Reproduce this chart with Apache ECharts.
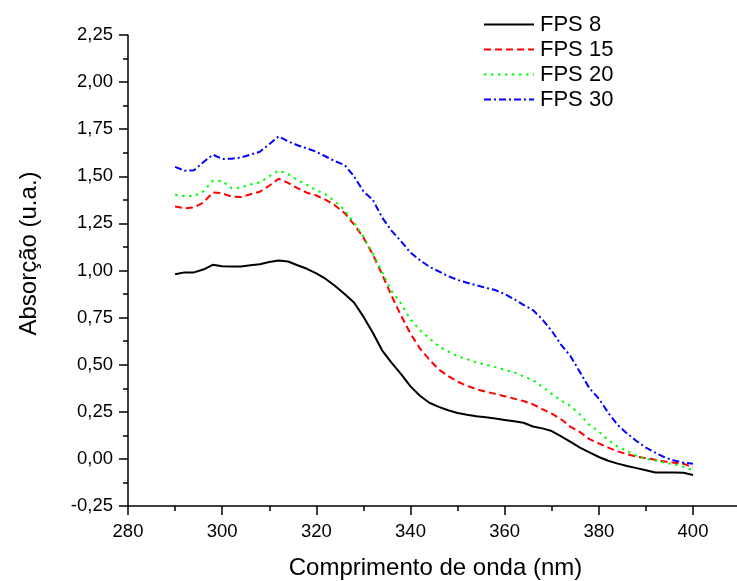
<!DOCTYPE html>
<html>
<head>
<meta charset="utf-8">
<script src="https://cdn.jsdelivr.net/npm/echarts@6/dist/echarts.min.js"></script>
<style>html,body{margin:0;padding:0;background:#fff}#c{width:737px;height:581px}</style>
</head>
<body>
<div id="c"></div>
<script>
const wavelengths = [290,292,294,296,298,300,302,304,306,308,310,312,314,316,318,320,322,324,326,328,330,332,334,336,338,340,342,344,346,348,350,352,354,356,358,360,362,364,366,368,370,372,374,376,378,380,382,384,386,388,390,392,394,396,398,400];
const fps8 = [0.98,0.99,0.99,1.005,1.03,1.022,1.021,1.021,1.028,1.033,
  1.045,1.053,1.048,1.028,1.009,0.985,0.955,0.918,0.875,0.83,
  0.755,0.67,0.575,0.51,0.45,0.385,0.335,0.298,0.276,0.258,
  0.244,0.234,0.226,0.221,0.214,0.207,0.2,0.192,0.172,0.162,
  0.148,0.12,0.09,0.06,0.035,0.01,-0.01,-0.025,-0.038,-0.049,
  -0.06,-0.072,-0.072,-0.072,-0.074,-0.085];
const fps15 = [1.34,1.33,1.335,1.36,1.414,1.41,1.392,1.39,1.405,1.418,
  1.45,1.487,1.465,1.437,1.413,1.398,1.375,1.345,1.305,1.245,
  1.175,1.085,0.978,0.865,0.76,0.665,0.586,0.527,0.475,0.44,
  0.41,0.388,0.37,0.357,0.345,0.333,0.32,0.307,0.29,0.264,
  0.24,0.21,0.17,0.142,0.105,0.082,0.06,0.04,0.025,0.012,
  0.004,-0.005,-0.014,-0.02,-0.026,-0.045];
const fps20 = [1.402,1.395,1.395,1.42,1.476,1.475,1.437,1.44,1.457,1.467,
  1.5,1.53,1.512,1.48,1.455,1.425,1.405,1.365,1.32,1.255,
  1.18,1.09,0.99,0.89,0.825,0.74,0.683,0.64,0.597,0.57,
  0.545,0.53,0.512,0.5,0.487,0.472,0.46,0.438,0.418,0.383,
  0.345,0.31,0.28,0.235,0.18,0.145,0.1,0.065,0.042,0.017,
  0.0,-0.008,-0.02,-0.03,-0.042,-0.06];
const fps30 = [1.55,1.53,1.532,1.575,1.615,1.592,1.593,1.6,1.615,1.63,
  1.67,1.712,1.685,1.665,1.648,1.63,1.605,1.58,1.56,1.5,
  1.42,1.375,1.28,1.21,1.155,1.095,1.055,1.02,0.995,0.97,
  0.95,0.935,0.922,0.908,0.896,0.875,0.848,0.818,0.79,0.74,
  0.68,0.605,0.545,0.46,0.375,0.32,0.245,0.18,0.135,0.095,
  0.06,0.033,0.008,-0.008,-0.02,-0.026];
const seriesNames = ['FPS 8','FPS 15','FPS 20','FPS 30'];
const seriesValues = [fps8, fps15, fps20, fps30];
const seriesColors = ['#000000','#ff0000','#00ff00','#0000ff'];
const seriesDash = ['solid',[7,4],[2.5,4.5],[7,3,2,3]];

const font = 'Liberation Sans, Arial, sans-serif';
const axisColor = '#000';
const chart = echarts.init(document.getElementById('c'), null, {renderer:'canvas'});

const series = seriesNames.map((name, k) => ({
  name: name,
  type: 'line',
  xAxisIndex: 0,
  yAxisIndex: 0,
  symbol: 'none',
  smooth: false,
  data: wavelengths.map((w, i) => [w, seriesValues[k][i]]),
  lineStyle: {color: seriesColors[k], width: 2, type: seriesDash[k]},
  itemStyle: {color: seriesColors[k]}
}));

chart.setOption({
  animation: false,
  backgroundColor: '#fff',
  textStyle: {fontFamily: font},
  grid: [
    {left: 128, top: 35, width: 565, height: 471, containLabel: false, outerBoundsMode: 'none'},
    {left: 693, top: 35, width: 47, height: 471, containLabel: false, outerBoundsMode: 'none'}
  ],
  legend: {
    data: seriesNames,
    orient: 'vertical',
    left: 483,
    top: 12,
    padding: 0,
    itemWidth: 50,
    itemHeight: 14,
    itemGap: 0,
    itemStyle: {opacity: 0},
    textStyle: {fontSize: 22, color: '#000', lineHeight: 25, fontFamily: font, padding: [0,0,0,1]}
  },
  xAxis: [
    {
      gridIndex: 0, type: 'value', min: 280, max: 400, interval: 20,
      name: 'Comprimento de onda (nm)', nameLocation: 'middle', nameGap: 50,
      nameTextStyle: {fontSize: 24, color: '#000', fontFamily: font, padding: [0,0,0,50]},
      axisLine: {onZero: false, lineStyle: {color: axisColor, width: 1.5}},
      axisTick: {length: 9, lineStyle: {color: axisColor, width: 1.5}},
      minorTick: {show: true, splitNumber: 2, length: 5, lineStyle: {color: axisColor, width: 1.5}},
      axisLabel: {fontSize: 18.5, color: '#000', margin: 16, fontFamily: font},
      splitLine: {show: false}
    },
    {
      gridIndex: 1, type: 'value', min: 400, max: 410,
      axisLine: {onZero: false, lineStyle: {color: axisColor, width: 1.5}},
      axisTick: {show: false}, axisLabel: {show: false}, splitLine: {show: false}
    }
  ],
  yAxis: [
    {
      gridIndex: 0, type: 'value', min: -0.25, max: 2.25, interval: 0.25,
      name: 'Absorção (u.a.)', nameLocation: 'middle', nameGap: 87,
      nameTextStyle: {fontSize: 24, color: '#000', fontFamily: font, padding: [0,0,0,34]},
      axisLine: {onZero: false, lineStyle: {color: axisColor, width: 1.5}},
      axisTick: {length: 9, lineStyle: {color: axisColor, width: 1.5}},
      minorTick: {show: true, splitNumber: 2, length: 5, lineStyle: {color: axisColor, width: 1.5}},
      axisLabel: {fontSize: 18.5, color: '#000', margin: 15, fontFamily: font,
        formatter: v => v.toFixed(2).replace('.', ',')},
      splitLine: {show: false}
    },
    {gridIndex: 1, type: 'value', min: -0.25, max: 2.25, show: false}
  ],
  series: series
});
</script>
</body>
</html>
